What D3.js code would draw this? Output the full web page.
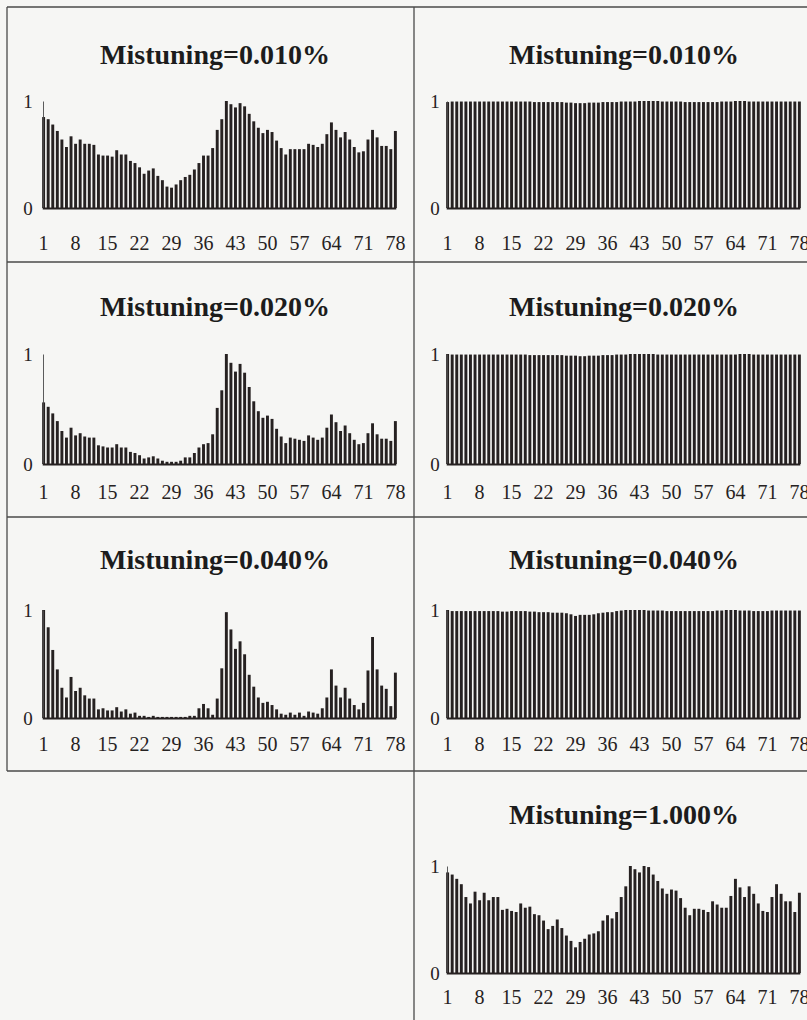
<!DOCTYPE html>
<html>
<head>
<meta charset="utf-8">
<script src="https://cdn.jsdelivr.net/npm/d3@7"></script>
<style>
    html, body { margin: 0; padding: 0; background: #f6f6f4; }
    svg { display: block; }
    .title { font-family: "Liberation Serif", "Times New Roman", serif; font-weight: bold; font-size: 28px; fill: #1c1c1c; }
    .tick text { font-family: "Liberation Serif", "Times New Roman", serif; fill: #262222; }
</style>
</head>
<body>
<svg id="chart" width="807" height="1020"></svg>
<script>
// Mode index on the x axis
const modes = d3.range(1, 79);
const tickLabels = [1, 8, 15, 22, 29, 36, 43, 50, 57, 64, 71, 78];

// Left column (normalised amplitude)
const left010 = [0.85,0.83,0.78,0.72,0.64,0.57,0.67,0.60,0.64,0.60,0.60,0.59,0.50,0.49,0.49,0.48,0.54,0.50,0.50,0.44,
    0.42,0.38,0.32,0.35,0.37,0.30,0.26,0.20,0.19,0.22,0.26,0.29,0.31,0.36,0.42,0.49,0.49,0.56,0.73,0.83,
    1.00,0.97,0.94,0.98,0.95,0.88,0.81,0.75,0.70,0.73,0.71,0.63,0.56,0.50,0.55,0.55,0.55,0.55,0.60,0.59,
    0.57,0.60,0.69,0.80,0.73,0.66,0.71,0.64,0.57,0.52,0.53,0.64,0.73,0.66,0.58,0.58,0.55,0.72];

const left020 = [0.56,0.52,0.46,0.39,0.30,0.24,0.33,0.26,0.28,0.25,0.24,0.24,0.17,0.16,0.15,0.15,0.18,0.15,0.15,0.11,
    0.10,0.08,0.05,0.06,0.07,0.05,0.03,0.02,0.02,0.02,0.03,0.06,0.06,0.10,0.15,0.18,0.19,0.27,0.51,0.67,
    1.00,0.92,0.84,0.91,0.83,0.70,0.57,0.48,0.42,0.44,0.41,0.32,0.25,0.19,0.24,0.23,0.22,0.21,0.26,0.24,
    0.22,0.24,0.33,0.45,0.38,0.30,0.35,0.28,0.22,0.18,0.19,0.28,0.37,0.27,0.23,0.23,0.21,0.39];

const left040 = [1.00,0.84,0.63,0.45,0.28,0.19,0.38,0.25,0.28,0.21,0.18,0.18,0.08,0.09,0.07,0.07,0.10,0.06,0.08,0.04,
    0.05,0.02,0.02,0.01,0.02,0.01,0.01,0.01,0.01,0.01,0.01,0.01,0.02,0.02,0.09,0.13,0.09,0.03,0.18,0.46,
    0.98,0.82,0.64,0.71,0.59,0.40,0.29,0.19,0.14,0.15,0.12,0.08,0.04,0.03,0.05,0.03,0.05,0.02,0.06,0.05,
    0.04,0.09,0.19,0.45,0.30,0.19,0.28,0.18,0.12,0.08,0.14,0.44,0.75,0.45,0.30,0.27,0.11,0.42];

// Right column (normalised amplitude)
const right010 = [0.99,0.995,0.995,0.995,0.995,0.995,0.995,0.995,0.995,0.995,0.995,0.995,0.995,0.995,0.995,0.995,0.995,0.995,0.995,0.99,
    0.99,0.99,0.99,0.99,0.99,0.99,0.985,0.985,0.98,0.98,0.98,0.985,0.985,0.985,0.99,0.99,0.99,0.99,0.995,0.995,
    0.995,0.995,1.0,1.0,1.0,1.0,1.0,0.995,0.995,0.995,0.995,0.995,0.99,0.99,0.99,0.99,0.99,0.99,0.99,0.99,
    0.995,0.995,0.995,1.0,1.0,1.0,0.995,0.995,0.995,0.995,0.995,0.995,0.995,0.995,0.995,0.995,0.995,0.995];

const right020 = [1.0,0.995,0.995,0.995,0.995,0.995,0.995,0.995,0.995,0.995,0.995,0.995,0.995,0.995,0.995,0.995,0.995,0.995,0.99,0.99,
    0.99,0.99,0.99,0.99,0.99,0.99,0.985,0.985,0.985,0.98,0.98,0.985,0.985,0.985,0.99,0.99,0.99,0.995,0.995,0.995,
    1.0,1.0,1.0,1.0,1.0,1.0,0.995,0.995,0.995,0.995,0.995,0.995,0.995,0.995,0.995,0.995,0.995,0.995,0.995,0.995,
    0.995,0.995,0.995,0.995,1.0,1.0,1.0,0.995,0.995,0.995,0.995,0.995,0.995,0.995,0.995,0.995,0.995,0.995];

const right040 = [1.0,0.99,0.99,0.99,0.99,0.99,0.99,0.99,0.99,0.99,0.99,0.99,0.985,0.985,0.99,0.99,0.99,0.99,0.985,0.985,
    0.98,0.98,0.98,0.975,0.975,0.975,0.97,0.96,0.945,0.955,0.955,0.955,0.96,0.97,0.975,0.98,0.98,0.99,0.995,1.0,
    1.0,1.0,1.0,1.0,0.995,0.995,0.995,0.995,0.99,0.99,0.99,0.99,0.99,0.99,0.99,0.99,0.99,0.99,0.99,0.995,
    0.995,1.0,1.0,1.0,0.995,0.995,0.995,0.99,0.99,0.99,0.99,0.995,0.995,0.995,0.995,0.995,0.995,0.995];

const right1000 = [0.94,0.92,0.88,0.83,0.71,0.65,0.76,0.68,0.75,0.68,0.71,0.71,0.59,0.60,0.58,0.57,0.65,0.61,0.62,0.55,
    0.54,0.49,0.41,0.44,0.50,0.42,0.35,0.30,0.24,0.29,0.32,0.36,0.37,0.39,0.49,0.54,0.51,0.57,0.71,0.81,
    1.00,0.97,0.94,1.00,0.99,0.92,0.86,0.79,0.74,0.78,0.77,0.70,0.61,0.54,0.60,0.60,0.59,0.57,0.67,0.64,
    0.61,0.61,0.72,0.88,0.80,0.71,0.81,0.74,0.65,0.58,0.57,0.71,0.83,0.74,0.67,0.67,0.57,0.75];

const titles = ["Mistuning=0.010%", "Mistuning=0.020%", "Mistuning=0.040%", "Mistuning=1.000%"];

// Panel grid: which column/row each series goes in
const panels = [
    { col: 0, row: 0, values: left010,  title: titles[0] },
    { col: 0, row: 1, values: left020,  title: titles[1] },
    { col: 0, row: 2, values: left040,  title: titles[2] },
    { col: 1, row: 0, values: right010, title: titles[0] },
    { col: 1, row: 1, values: right020, title: titles[1] },
    { col: 1, row: 2, values: right040, title: titles[2] },
    { col: 1, row: 3, values: right1000, title: titles[3] }
];

// Layout (pixels)
const colLayout = [
    { plotX: 41.7, labelX: 28, titleX: 215 },
    { plotX: 445.7, labelX: 435, titleX: 624 }
];
const rowLayout = [
    { titleY: 64,  top: 101, base: 208, tickY: 250 },
    { titleY: 316, top: 354, base: 464, tickY: 499 },
    { titleY: 569, top: 610, base: 718, tickY: 751 },
    { titleY: 824, top: 866, base: 973, tickY: 1004 }
];
const plotW = 355.6;
const ink = "#262121";
const rule = "#4a4a4a";

const svg = d3.select("#chart");

// Table rules
const frame = svg.append("g")
    .attr("stroke", rule)
    .attr("stroke-width", 1.3)
    .attr("fill", "none");
frame.append("line").attr("x1", 7).attr("x2", 807).attr("y1", 7).attr("y2", 7);
frame.append("line").attr("x1", 7).attr("x2", 7).attr("y1", 7).attr("y2", 771);
frame.append("line").attr("x1", 414).attr("x2", 414).attr("y1", 7).attr("y2", 1020);
[262, 517, 771].forEach(y => {
    frame.append("line").attr("x1", 7).attr("x2", 807).attr("y1", y).attr("y2", y);
});

function drawPanel(p) {
    const c = colLayout[p.col];
    const r = rowLayout[p.row];
    const g = svg.append("g");

    const x = d3.scaleBand()
        .domain(modes)
        .range([c.plotX, c.plotX + plotW])
        .paddingInner(0.36)
        .paddingOuter(0.1);

    const y = d3.scaleLinear()
        .domain([0, 1])
        .range([r.base, r.top]);

    g.append("text")
        .attr("class", "title")
        .attr("x", c.titleX)
        .attr("y", r.titleY)
        .attr("text-anchor", "middle")
        .text(p.title);

    // Bars
    g.append("g")
        .selectAll("rect")
        .data(p.values)
        .join("rect")
        .attr("x", (d, i) => x(modes[i]))
        .attr("width", x.bandwidth())
        .attr("y", d => y(d))
        .attr("height", d => y(0) - y(d))
        .attr("fill", ink);

    // Y axis: thin vertical rule with 0 / 1 labels
    const yAxis = g.append("g")
        .attr("transform", `translate(${c.plotX + 1.3},0)`)
        .call(d3.axisLeft(y).tickValues([0, 1]).tickSize(0).tickPadding(0).tickFormat(d3.format("d")));
    yAxis.select(".domain").attr("stroke", rule).attr("stroke-width", 0.9);
    yAxis.selectAll(".tick text")
        .attr("x", c.labelX - c.plotX - 1.3)
        .attr("text-anchor", "middle")
        .attr("font-size", 19);

    // Baseline
    g.append("line")
        .attr("x1", c.plotX + 1)
        .attr("x2", c.plotX + plotW - 1)
        .attr("y1", r.base + 0.5)
        .attr("y2", r.base + 0.5)
        .attr("stroke", ink)
        .attr("stroke-width", 2);

    // X axis labels
    const xAxis = g.append("g")
        .attr("transform", `translate(0,${r.base})`)
        .call(d3.axisBottom(x).tickValues(tickLabels).tickSize(0).tickPadding(0));
    xAxis.select(".domain").remove();
    xAxis.selectAll(".tick text")
        .attr("dy", null)
        .attr("y", r.tickY - r.base)
        .attr("font-size", 20);
}

panels.forEach(drawPanel);
</script>
</body>
</html>
